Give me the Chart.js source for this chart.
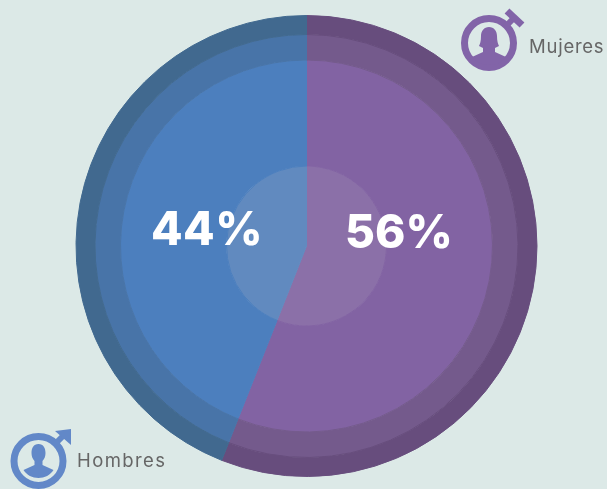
<!DOCTYPE html>
<html>
<head>
<meta charset="utf-8">
<script src="https://cdn.jsdelivr.net/npm/chart.js@4"></script>
<style>
  html, body { margin: 0; padding: 0; background: #dce9e7; }
  #wrap { position: relative; width: 607px; height: 489px; overflow: hidden; }
  canvas { position: absolute; left: 0; top: 0; }
  .icon { position: absolute; left: 0; top: 0; }
  .name { position: absolute; font: 400 18.5px Inter, sans-serif; letter-spacing: 0.75px; color: #666; line-height: 20px; }
</style>
</head>
<body>
<div id="wrap">
  <canvas id="pie" width="607" height="489"></canvas>
  <svg class="icon" width="607" height="489">
    <!-- Mujeres -->
    <g fill="#8264a8" stroke="none">
      <circle cx="489" cy="43" r="24.5" fill="none" stroke="#8264a8" stroke-width="7"/>
      <path d="M505 27 L515 17" stroke="#8264a8" stroke-width="6"/>
      <path d="M507 11 L522 25" stroke="#8264a8" stroke-width="7"/>
      <path d="M489 27 c-5 0 -8 4 -8 9 c0 5 -1 8 -2 10 l4 2 l0 4 l-11 5 c4 5 10 8 17 8 s13 -3 17 -8 l-11 -5 l0 -4 l4 -2 c-1 -2 -2 -5 -2 -10 c0 -5 -3 -9 -8 -9 z"/>
    </g>
    <!-- Hombres -->
    <g fill="#6288c8" stroke="none">
      <circle cx="38.5" cy="461" r="24.5" fill="none" stroke="#6288c8" stroke-width="7"/>
      <path d="M54 445 L64 435" stroke="#6288c8" stroke-width="6"/>
      <path d="M55 431 L71 429 L71 445 Z"/>
      <path d="M38.5 444 c-5 0 -7 4 -7 9 c0 3 1 6 3 8 l0 4 l-11 5 c3 5 9 8 15 8 s12 -3 15 -8 l-11 -5 l0 -4 c2 -2 3 -5 3 -8 c0 -5 -2 -9 -7 -9 z"/>
    </g>
  </svg>
  <div class="name" style="left:529px;top:36px">Mujeres</div>
  <div class="name" style="left:77px;top:450px;letter-spacing:1.4px">Hombres</div>
</div>
<script>
// Data
const categories = ['Mujeres', 'Hombres'];
const shares = [56, 44];

// Ring colours, outside to centre
const outerColors = ['#674d7d', '#41698f'];
const middleColors = ['#745a8c', '#4874a8'];
const innerColors = ['#8263a3', '#4c7fbe'];
const centerColors = ['#8b70a8', '#618abf'];

// Percent labels on the big slices
const percentLabels = {
  id: 'percentLabels',
  afterDatasetsDraw(chart) {
    const { ctx } = chart;
    const spots = [[399, 234], [207, 231]];
    ctx.save();
    ctx.fillStyle = '#fff';
    ctx.font = '800 46px Inter, sans-serif';
    ctx.textAlign = 'center';
    ctx.textBaseline = 'middle';
    shares.forEach((v, i) => {
      ctx.letterSpacing = i === 0 ? '0px' : '0.5px';
      ctx.fillText(v + '%', spots[i][0], spots[i][1]);
    });
    ctx.restore();
  }
};

// border in the slice colour closes the seams between rings
function ring(colors, weight) {
  return { data: shares, backgroundColor: colors, borderColor: colors, borderWidth: 1, weight };
}

new Chart(document.getElementById('pie'), {
  type: 'pie',
  data: {
    labels: categories,
    datasets: [ring(outerColors, 19), ring(middleColors, 25.5), ring(innerColors, 106), ring(centerColors, 80)]
  },
  options: {
    responsive: false,
    animation: false,
    layout: { padding: { left: 75.5, right: 69.5, top: 15, bottom: 12 } },
    plugins: {
      legend: { display: false },
      tooltip: { enabled: false }
    }
  },
  plugins: [percentLabels]
});
</script>
</body>
</html>
